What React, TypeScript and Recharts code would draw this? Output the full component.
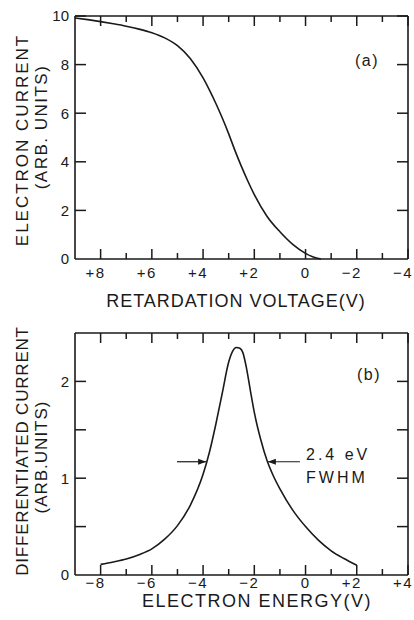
import React from "react";
import { LineChart, Line, XAxis, YAxis, ReferenceLine } from "recharts";

// panel (a): retardation curve
const retardVoltage = [9, 8.5, 8, 7.5, 7, 6.5, 6, 5.5, 5, 4.5, 4, 3.75, 3.5, 3.25, 3, 2.75, 2.5, 2.25, 2, 1.5, 1, 0.5, 0, -0.3, -0.6];
const electronCurrent = [9.92, 9.85, 9.77, 9.68, 9.58, 9.46, 9.31, 9.1, 8.78, 8.25, 7.45, 6.95, 6.4, 5.8, 5.15, 4.45, 3.8, 3.2, 2.65, 1.75, 1.12, 0.6, 0.23, 0.08, 0];
const voltageDomain = [-4, 9];
const voltageTicks = [8, 7, 6, 5, 4, 3, 2, 1, 0, -1, -2, -3, -4];
const currentDomain = [0, 10];
const currentTicks = [0, 2, 4, 6, 8, 10];

// panel (b): differentiated current
const electronEnergy = [-8, -7.5, -7, -6.5, -6, -5.5, -5, -4.5, -4, -3.75, -3.5, -3.25, -3, -2.85, -2.7, -2.55, -2.45, -2.3, -2.15, -2, -1.75, -1.5, -1.25, -1, -0.5, 0, 0.5, 1, 1.5, 2];
const diffCurrent = [0.11, 0.135, 0.165, 0.21, 0.27, 0.37, 0.51, 0.72, 1.04, 1.27, 1.56, 1.88, 2.2, 2.31, 2.35, 2.34, 2.3, 2.13, 1.9, 1.68, 1.4, 1.18, 1.02, 0.89, 0.67, 0.5, 0.36, 0.25, 0.17, 0.1];
const energyDomain = [-9, 4];
const energyTicks = [-8, -7, -6, -5, -4, -3, -2, -1, 0, 1, 2, 3, 4];
const diffDomain = [0, 2.5];
const diffTicks = [0, 0.5, 1, 1.5, 2];

// FWHM markers (eV), at half height
const fwhmLevel = 1.17;
const fwhmLeft = [-5.02, -3.88];
const fwhmRight = [-0.22, -1.47];

const dataA = retardVoltage.map((v, i) => ({ v, i: electronCurrent[i] }));
const dataB = electronEnergy.map((e, i) => ({ e, d: diffCurrent[i] }));

const INK = "#1a1a1a";
const FONT = "'Liberation Sans', Arial, sans-serif";

function signed(v: number) {
  if (v > 0) return `+${v}`;
  if (v < 0) return `\u2212${Math.abs(v)}`;
  return "0";
}

function XLabel(props: any) {
  const { x, y, payload, labelDy } = props;
  const v = payload.value;
  if (v % 2 !== 0) return <g />;
  return (
    <text x={x + 5} y={y + labelDy} textAnchor="end" fontSize={15} fontFamily={FONT} fill={INK} letterSpacing={1.5}>
      {signed(v)}
    </text>
  );
}

function YLabel(props: any) {
  const { x, y, payload, showLabel } = props;
  const v = payload.value;
  if (!showLabel(v)) return <g />;
  return (
    <text x={x - 6} y={y} dy="0.36em" textAnchor="end" fontSize={15} fontFamily={FONT} fill={INK}>
      {v}
    </text>
  );
}

function Edge(props: any) {
  const { x1, y1, x2, y2 } = props;
  return <line x1={x1} y1={y1} x2={x2} y2={y2} stroke={INK} strokeWidth={1.6} />;
}

// inward ticks at both ends of a full-height segment (bottom + top of frame)
function VTicks(props: any) {
  const { x1, y1, y2, len } = props;
  const top = Math.min(y1, y2);
  const bot = Math.max(y1, y2);
  return (
    <g>
      <line x1={x1} x2={x1} y1={top} y2={top + len} stroke={INK} strokeWidth={1.5} />
      <line x1={x1} x2={x1} y1={bot} y2={bot - len} stroke={INK} strokeWidth={1.5} />
    </g>
  );
}

// inward ticks at both ends of a full-width segment (left + right of frame)
function HTicks(props: any) {
  const { x1, x2, y1, len } = props;
  const left = Math.min(x1, x2);
  const right = Math.max(x1, x2);
  return (
    <g>
      <line x1={left} x2={left + len} y1={y1} y2={y1} stroke={INK} strokeWidth={1.5} />
      <line x1={right} x2={right - len} y1={y1} y2={y1} stroke={INK} strokeWidth={1.5} />
    </g>
  );
}

function Arrow(props: any) {
  const { x1, y1, x2, y2 } = props;
  const dir = Math.sign(x2 - x1);
  return (
    <g>
      <line x1={x1} y1={y1} x2={x2} y2={y2} stroke={INK} strokeWidth={1.2} />
      <polygon points={`${x2},${y2} ${x2 - dir * 8},${y2 - 3} ${x2 - dir * 8},${y2 + 3}`} fill={INK} />
    </g>
  );
}

const label = { fontFamily: FONT, fill: INK };

function frame(xDom: number[], yDom: number[], xTicks: number[], yTicks: number[], xRight: number) {
  const [y0, y1] = yDom;
  const xLeft = xDom[0] === xRight ? xDom[1] : xDom[0];
  return [
    <ReferenceLine key="top" xAxisId="b" yAxisId="l" ifOverflow="visible"
      segment={[{ x: xLeft, y: y1 }, { x: xRight, y: y1 }]} shape={(p: any) => <Edge {...p} />} />,
    <ReferenceLine key="right" xAxisId="b" yAxisId="l" ifOverflow="visible"
      segment={[{ x: xRight, y: y0 }, { x: xRight, y: y1 }]} shape={(p: any) => <Edge {...p} />} />,
    ...xTicks.map((v) => (
      <ReferenceLine key={`x${v}`} xAxisId="b" yAxisId="l" ifOverflow="visible"
        segment={[{ x: v, y: y0 }, { x: v, y: y1 }]}
        shape={(p: any) => <VTicks {...p} len={v % 2 === 0 ? 10 : 6} />} />
    )),
    ...yTicks.filter((v) => v !== y0).map((v) => (
      <ReferenceLine key={`y${v}`} xAxisId="b" yAxisId="l" ifOverflow="visible"
        segment={[{ x: xLeft, y: v }, { x: xRight, y: v }]}
        shape={(p: any) => <HTicks {...p} len={11} />} />
    )),
  ];
}

export default function App() {
  return (
    <div style={{ position: "absolute", left: 0, top: 0, width: 414, height: 620, background: "#fff" }}>
      <div style={{ position: "absolute", left: 0, top: 0 }}>
        <LineChart width={414} height={315} data={dataA} margin={{ top: 16, right: 6, bottom: 0, left: 0 }}>
          <XAxis xAxisId="b" dataKey="v" type="number" domain={voltageDomain} reversed ticks={voltageTicks} interval={0}
            height={56} tickSize={0} tickMargin={0} tickLine={false} axisLine={{ stroke: INK, strokeWidth: 1.6 }}
            tick={(p: any) => <XLabel {...p} labelDy={19} />} />
          <YAxis yAxisId="l" type="number" domain={currentDomain} ticks={currentTicks} interval={0} width={75} tickSize={0}
            tickMargin={0} tickLine={false} axisLine={{ stroke: INK, strokeWidth: 1.6 }}
            tick={(p: any) => <YLabel {...p} showLabel={() => true} />} />
          {frame(voltageDomain, currentDomain, voltageTicks, currentTicks, voltageDomain[0])}
          <Line xAxisId="b" yAxisId="l" dataKey="i" type="monotone" stroke={INK} strokeWidth={1.6} dot={false} isAnimationActive={false} />
          <text x={236} y={307} textAnchor="middle" fontSize={18} letterSpacing={1} {...label}>RETARDATION VOLTAGE(V)</text>
          <text transform="translate(28,140) rotate(-90)" textAnchor="middle" fontSize={17} letterSpacing={2} {...label}>ELECTRON CURRENT</text>
          <text transform="translate(47,127) rotate(-90)" textAnchor="middle" fontSize={17} letterSpacing={1.5} {...label}>(ARB. UNITS)</text>
          <text x={355} y={66} fontSize={16} letterSpacing={1.5} {...label}>(a)</text>
        </LineChart>
      </div>
      <div style={{ position: "absolute", left: 0, top: 315 }}>
        <LineChart width={414} height={305} data={dataB} margin={{ top: 18, right: 6, bottom: 0, left: 0 }}>
          <XAxis xAxisId="b" dataKey="e" type="number" domain={energyDomain} ticks={energyTicks} interval={0}
            height={45} tickSize={0} tickMargin={0} tickLine={false} axisLine={{ stroke: INK, strokeWidth: 1.6 }}
            tick={(p: any) => <XLabel {...p} labelDy={13} />} />
          <YAxis yAxisId="l" type="number" domain={diffDomain} ticks={diffTicks} interval={0} width={75} tickSize={0}
            tickMargin={0} tickLine={false} axisLine={{ stroke: INK, strokeWidth: 1.6 }}
            tick={(p: any) => <YLabel {...p} showLabel={(v: number) => Number.isInteger(v)} />} />
          {frame(energyDomain, diffDomain, energyTicks, diffTicks, energyDomain[1])}
          <Line xAxisId="b" yAxisId="l" dataKey="d" type="monotone" stroke={INK} strokeWidth={1.6} dot={false} isAnimationActive={false} />
          <ReferenceLine xAxisId="b" yAxisId="l" segment={[{ x: fwhmLeft[0], y: fwhmLevel }, { x: fwhmLeft[1], y: fwhmLevel }]} shape={(p: any) => <Arrow {...p} />} />
          <ReferenceLine xAxisId="b" yAxisId="l" segment={[{ x: fwhmRight[0], y: fwhmLevel }, { x: fwhmRight[1], y: fwhmLevel }]} shape={(p: any) => <Arrow {...p} />} />
          <text x={257} y={292} textAnchor="middle" fontSize={18} letterSpacing={1.5} {...label}>ELECTRON ENERGY(V)</text>
          <text transform="translate(28,136) rotate(-90)" textAnchor="middle" fontSize={17} letterSpacing={0.8} {...label}>DIFFERENTIATED CURRENT</text>
          <text transform="translate(47,142) rotate(-90)" textAnchor="middle" fontSize={17} letterSpacing={1} {...label}>(ARB.UNITS)</text>
          <text x={357} y={65} fontSize={16} letterSpacing={1.5} {...label}>(b)</text>
          <text x={306} y={145} fontSize={16} letterSpacing={3} {...label}>2.4 eV</text>
          <text x={306} y={168} fontSize={16} letterSpacing={3} {...label}>FWHM</text>
        </LineChart>
      </div>
    </div>
  );
}
